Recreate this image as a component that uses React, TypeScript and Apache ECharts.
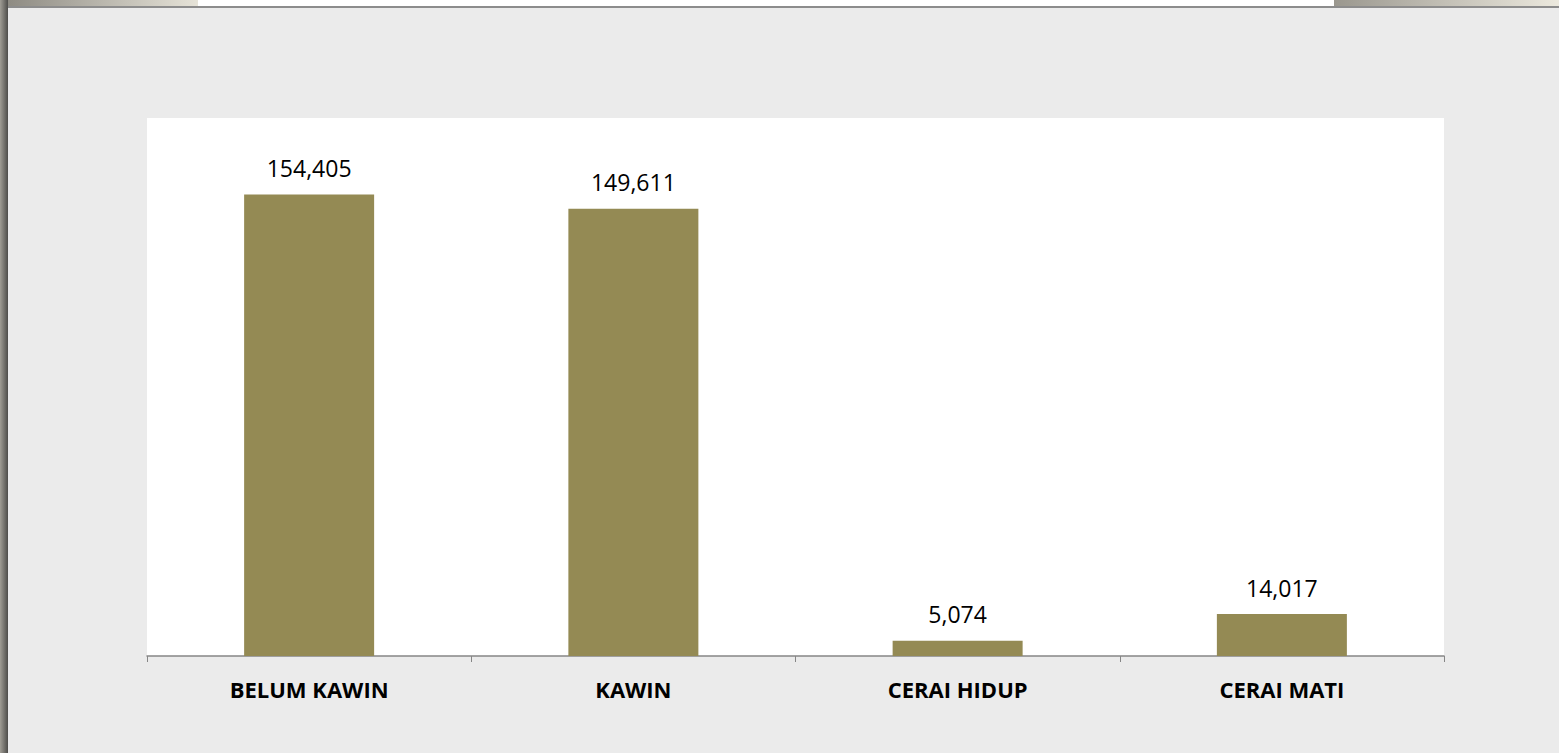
import React, { useEffect, useRef } from "react";
import * as echarts from "echarts";

const categories = ["BELUM KAWIN", "KAWIN", "CERAI HIDUP", "CERAI MATI"];
const values = [154405, 149611, 5074, 14017];
const yMax = 180000;

export default function App() {
  const ref = useRef<HTMLDivElement>(null);
  useEffect(() => {
    document.body.style.margin = "0";
    const chart = echarts.init(ref.current!, null, { renderer: "svg" });
    chart.setOption({
      animation: false,
      backgroundColor: "#ebebeb",
      graphic: [
        {
          type: "rect",
          shape: { x: 0, y: 0, width: 1559, height: 6 },
          style: { fill: "#ffffff" },
          silent: true,
        },
        {
          type: "rect",
          shape: { x: 0, y: 0, width: 198, height: 6 },
          style: {
            fill: new echarts.graphic.LinearGradient(0, 0, 1, 0, [
              { offset: 0, color: "#8a877f" },
              { offset: 1, color: "#e6e3d8" },
            ]),
          },
          silent: true,
        },
        {
          type: "rect",
          shape: { x: 1334, y: 0, width: 225, height: 6 },
          style: {
            fill: new echarts.graphic.LinearGradient(0, 0, 1, 0, [
              { offset: 0, color: "#9a978e" },
              { offset: 1, color: "#ece9de" },
            ]),
          },
          silent: true,
        },
        {
          type: "rect",
          shape: { x: 0, y: 6, width: 1559, height: 2 },
          style: { fill: "#8c8c8c" },
          silent: true,
        },
        {
          type: "rect",
          shape: { x: 0, y: 0, width: 8, height: 753 },
          style: {
            fill: new echarts.graphic.LinearGradient(0, 0, 1, 0, [
              { offset: 0, color: "#a09d95" },
              { offset: 1, color: "#4e4d4a" },
            ]),
          },
          silent: true,
        },
      ],
      grid: {
        left: 147,
        right: 115,
        top: 118,
        bottom: 97,
        show: true,
        backgroundColor: "#ffffff",
        borderWidth: 0,
        containLabel: false,
      },
      xAxis: {
        type: "category",
        data: categories,
        axisLine: { lineStyle: { color: "#868686", width: 1.5 } },
        axisTick: { show: true, length: 6, lineStyle: { color: "#868686" } },
        axisLabel: {
          color: "#000000",
          fontWeight: "bold",
          fontSize: 22,
          fontFamily: "Open Sans",
          margin: 22,
        },
      },
      yAxis: {
        type: "value",
        min: 0,
        max: yMax,
        show: false,
        splitLine: { show: false },
      },
      series: [
        {
          type: "bar",
          data: values,
          barWidth: 130,
          itemStyle: { color: "#948a54" },
          label: {
            show: true,
            position: "top",
            distance: 15,
            color: "#000000",
            fontSize: 23,
            fontFamily: "Open Sans",
            formatter: (p: any) => Number(p.value).toLocaleString("en-US"),
          },
        },
      ],
    });
    return () => chart.dispose();
  }, []);
  return <div ref={ref} style={{ width: 1559, height: 753 }} />;
}
